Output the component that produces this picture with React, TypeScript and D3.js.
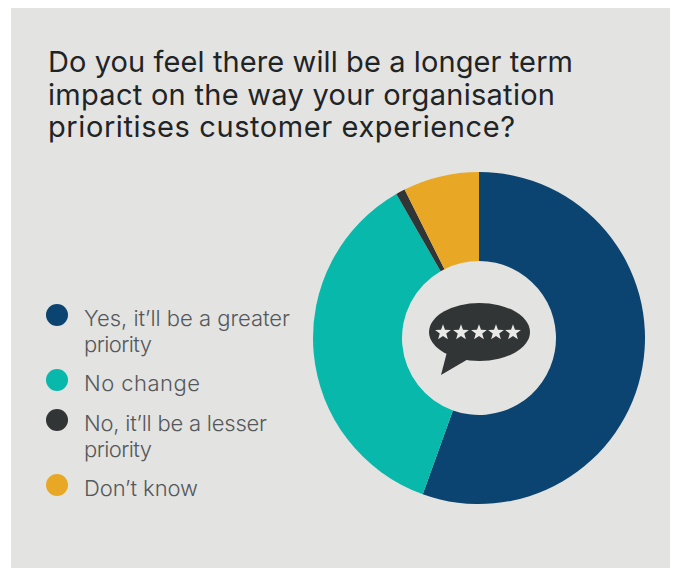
import React from "react";
import * as d3 from "d3";

const categories = ["Yes, it’ll be a greater priority", "No change", "No, it’ll be a lesser priority", "Don’t know"];
const shares = [55.5, 36.2, 0.9, 7.4];
const sliceColors = ["#0b4470", "#08b8ab", "#323536", "#e8a825"];
const titleLines = [
  "Do you feel there will be a longer term",
  "impact on the way your organisation",
  "prioritises customer experience?",
];
const titleWidths = [524, 506, 466];
const legendRows = [
  { dotIndex: 0, lines: ["Yes, it’ll be a greater", "priority"], widths: [206, 68] },
  { dotIndex: 1, lines: ["No change"], widths: [116] },
  { dotIndex: 2, lines: ["No, it’ll be a lesser", "priority"], widths: [183, 68] },
  { dotIndex: 3, lines: ["Don’t know"], widths: [114] },
];
const legendDotY = [315, 380, 420, 485];
const starOffsets = [-36, -18, 0, 17, 34];

const FONT = "Inter, 'Open Sans', sans-serif";
const CX = 479;
const CY = 338;

function starPath(cx: number, cy: number, outer: number, inner: number): string {
  const points: [number, number][] = d3.range(10).map((i) => {
    const r = i % 2 === 0 ? outer : inner;
    const a = (i * Math.PI) / 5 - Math.PI / 2;
    return [cx + r * Math.cos(a), cy + r * Math.sin(a)];
  });
  return d3.line()(points) + "Z";
}

export default function App() {
  const slices = d3.pie<number>().sort(null)(shares);
  const arc = d3.arc<d3.PieArcDatum<number>>().innerRadius(77).outerRadius(166);

  return (
    <svg
      width={675}
      height={568}
      style={{ position: "absolute", left: 0, top: 0, background: "#fff" }}
      fontFamily={FONT}
    >
      <rect x={11} y={8} width={659} height={560} fill="#e3e3e2" />

      <g fill="#1f2426" fontSize={29} fontWeight={400}>
        {titleLines.map((line, i) => (
          <text key={line} x={48} y={72 + i * 32.5} textLength={titleWidths[i] + 1} lengthAdjust="spacing">
            {line}
          </text>
        ))}
      </g>

      <g transform={`translate(${CX},${CY})`}>
        {slices.map((s, i) => (
          <path key={categories[i]} d={arc(s) ?? ""} fill={sliceColors[i]} />
        ))}
      </g>

      {/* Speech bubble with a five-star rating in the donut hole */}
      <g fill="#323536">
        <ellipse cx={479.5} cy={332} rx={50.5} ry={29} />
        <path d="M447,352 L441,375 L470,358 Z" />
      </g>
      <g fill="#e9e9e8">
        {starOffsets.map((dx) => (
          <path key={dx} d={starPath(CX + dx, 332.5, 8.3, 3.4)} />
        ))}
      </g>

      {legendRows.map((row, i) => (
        <g key={categories[row.dotIndex]}>
          <circle cx={57} cy={legendDotY[i]} r={11} fill={sliceColors[row.dotIndex]} />
          {row.lines.map((line, j) => (
            <text
              key={line}
              x={84}
              y={legendDotY[i] + 11 + j * 26}
              fontSize={22}
              fontWeight={300}
              fill="#55585a"
              textLength={row.widths[j]}
              lengthAdjust="spacing"
            >
              {line}
            </text>
          ))}
        </g>
      ))}
    </svg>
  );
}
